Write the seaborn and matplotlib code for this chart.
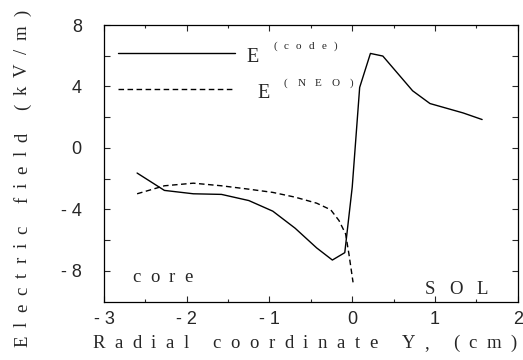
import numpy as np
import pandas as pd
import matplotlib
matplotlib.use("Agg")
import matplotlib.pyplot as plt
import seaborn as sns

# --- data ---
y_code = [-2.60, -2.27, -1.92, -1.58, -1.25, -0.96, -0.69, -0.43, -0.24, -0.09,
          0.00, 0.09, 0.22, 0.37, 0.73, 0.94, 1.34, 1.57]
e_code = [-1.63, -2.76, -2.98, -3.02, -3.42, -4.11, -5.22, -6.50, -7.29, -6.81,
          -2.55, 3.94, 6.15, 5.98, 3.72, 2.89, 2.28, 1.85]

y_neo = [-2.60, -2.27, -1.92, -1.58, -1.25, -0.96, -0.69, -0.43, -0.26, -0.16,
         -0.08, -0.04, 0.01]
e_neo = [-2.98, -2.46, -2.29, -2.46, -2.68, -2.89, -3.20, -3.59, -4.02, -4.72,
         -5.59, -6.89, -8.74]

x_ticks = [-3, -2, -1, 0, 1, 2]
x_ticklabels = ["- 3", "- 2", "- 1", "0", "1", "2"]
y_ticks = [-8, -6, -4, -2, 0, 2, 4, 6, 8]
y_ticklabels = ["- 8", "", "- 4", "", "0", "", "4", "", "8"]

df = pd.concat([
    pd.DataFrame({"Y": y_code, "E": e_code, "series": "code"}),
    pd.DataFrame({"Y": y_neo, "E": e_neo, "series": "NEO"}),
])

sns.set_style("ticks")
plt.rcParams['font.family'] = ['Liberation Sans', 'DejaVu Sans']
SERIF = ['Liberation Serif', 'DejaVu Serif']
W, H = 523, 360

fig = plt.figure(figsize=(5.23, 3.6), dpi=100)
ax = fig.add_axes([104 / W, 1 - 301.7 / H, 413.7 / W, 276.7 / H])

sns.lineplot(data=df, x="Y", y="E", style="series", color="black", lw=1.0,
             dashes={"code": "", "NEO": (4, 2.5)}, sort=False, legend=False, ax=ax)

ax.set_xlim(-3, 2)
ax.set_ylim(-10, 8)
ax.set_xticks(x_ticks)
ax.set_xticklabels(x_ticklabels, fontsize=13)
ax.set_xticks(np.arange(-2.5, 2, 1.0), minor=True)
ax.set_yticks(y_ticks)
ax.set_yticklabels(y_ticklabels, fontsize=13)
ax.tick_params(which="both", direction="in", top=True, right=True, width=0.8)
ax.tick_params(which="major", length=4)
ax.tick_params(axis="x", which="major", pad=7)
ax.tick_params(axis="y", which="major", pad=16)
ax.tick_params(which="minor", length=2.5)
ax.set_xlabel("")
ax.set_ylabel("")
for s in ax.spines.values():
    s.set_linewidth(0.9)
    s.set_color("black")

renderer = fig.canvas.get_renderer()


def spaced(s, start, end, base, size, vertical=False, word=2.5):
    # letter-spaced serif text stretched from start to end (pixels), baseline at base
    widths = []
    for c in s:
        if c == " ":
            widths.append(0.0)
            continue
        t = fig.text(0, 0, c, family=SERIF, fontsize=size)
        widths.append(t.get_window_extent(renderer).width)
        t.remove()
    words = s.split(" ")
    n_letter = sum(len(w) - 1 for w in words)
    n_word = len(words) - 1
    gap = (abs(end - start) - sum(widths)) / (n_letter + word * n_word)
    pos = 0.0
    prev = None
    for c, w in zip(s, widths):
        if c == " ":
            prev = " "
            continue
        if prev is not None:
            pos += gap * (word if prev == " " else 1.0)
        if vertical:
            fig.text(base / W, 1 - (start - pos) / H, c, family=SERIF, fontsize=size,
                     rotation=90, rotation_mode="anchor", ha="left", va="baseline")
        else:
            fig.text((start + pos) / W, 1 - base / H, c, family=SERIF, fontsize=size,
                     ha="left", va="baseline")
        pos += w
        prev = c


# axis titles
spaced("Radial coordinate Y, (cm)", 92, 517, 348, 13.5)
spaced("Electric field (kV/m)", 347, 10, 27, 13.5, vertical=True)

# key
ax.plot([0.034, 0.317], [0.898, 0.898], color="black", lw=1.0, transform=ax.transAxes)
ax.plot([0.034, 0.317], [0.769, 0.769], color="black", lw=1.0, dashes=(4, 2.5),
        transform=ax.transAxes)
fig.text(246 / W, 1 - 62 / H, "E", family=SERIF, fontsize=14.5, ha="left", va="baseline")
fig.text(257 / W, 1 - 97.5 / H, "E", family=SERIF, fontsize=14.5, ha="left", va="baseline")
spaced("(code)", 273, 337, 49, 8)
spaced("(NEO)", 284, 353, 86, 8)

# region labels
spaced("core", 132, 193, 282, 13.5)
spaced("SOL", 425, 488, 294, 13.5)

fig.savefig("out.png", dpi=100)
